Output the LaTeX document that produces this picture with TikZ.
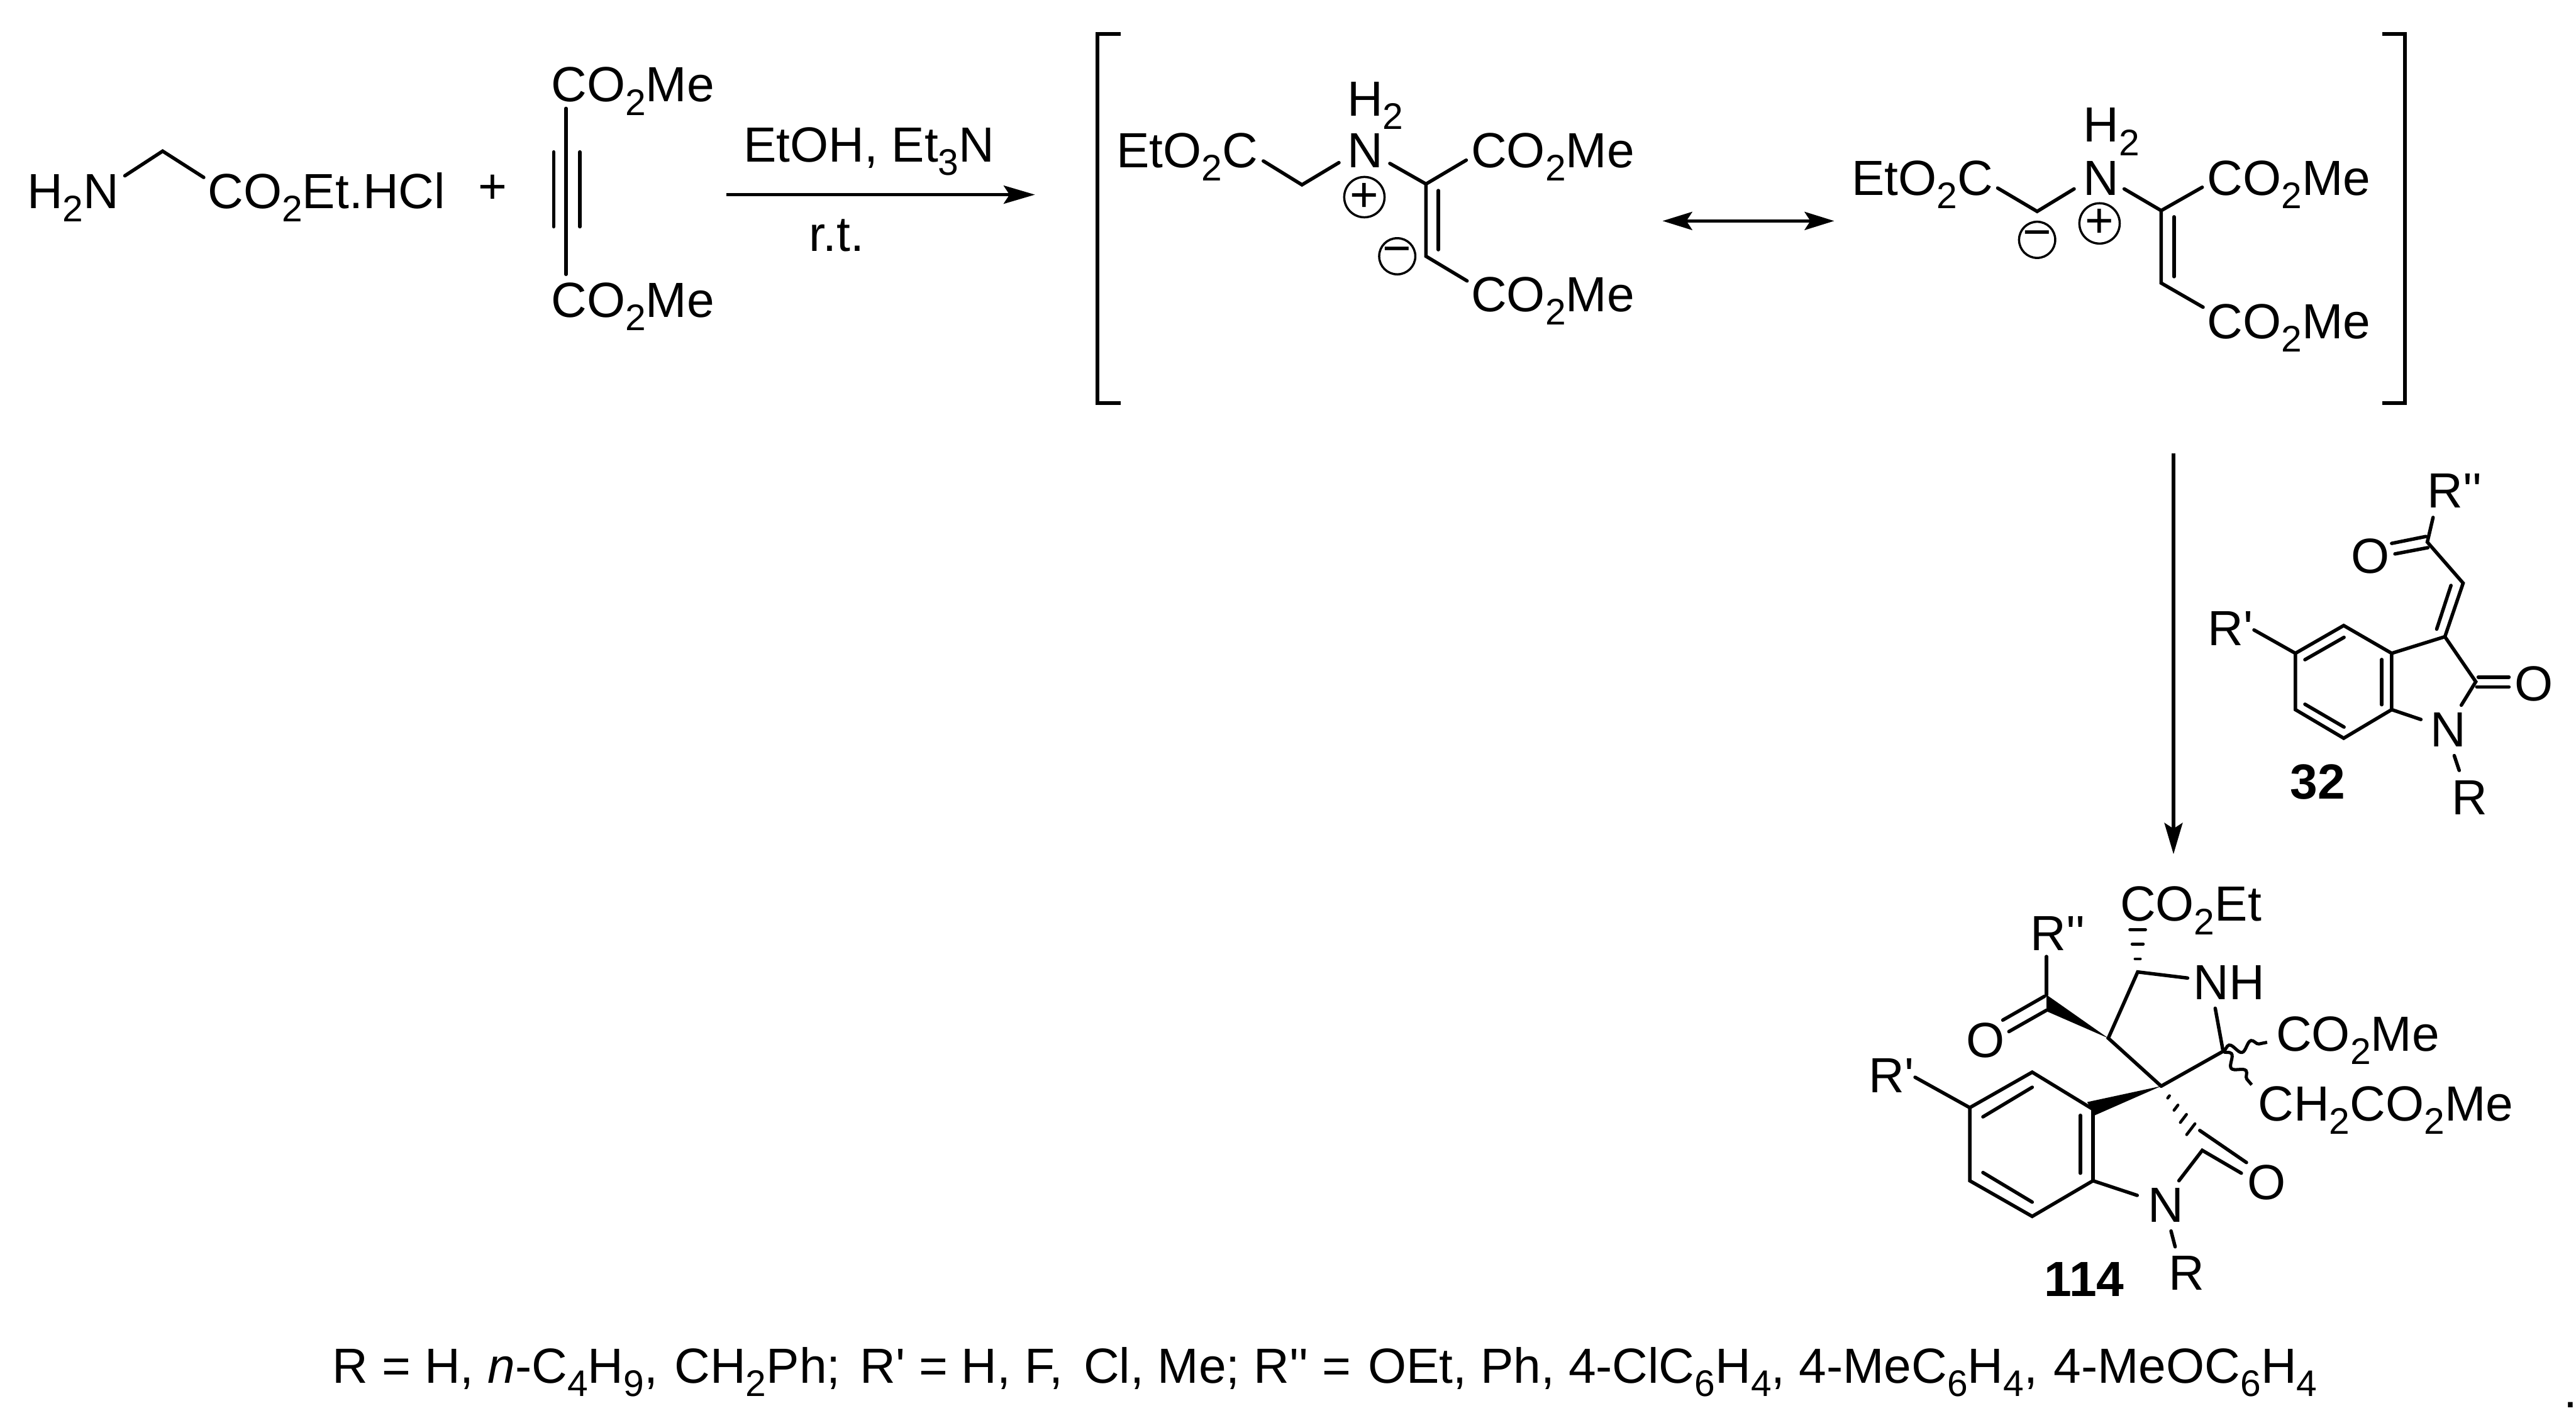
\documentclass[tikz,border=0pt]{standalone}
\usepackage{fontspec}
\setmainfont{Liberation Sans}[Ligatures=TeXOff]
\usetikzlibrary{arrows.meta,calc,decorations.pathmorphing}
\newcommand{\dn}[1]{\raisebox{-.27em}{\fontsize{6.4}{7}\selectfont #1}}
\tikzset{
 lab/.style={anchor=base west,inner sep=0pt,xshift=-.012cm,font=\fontsize{8.55}{10}\selectfont},
 num/.style={lab,font=\fontsize{8.55}{10}\selectfont\bfseries},
 bond/.style={line width=.6pt,line cap=round},
 hook/.style={line width=.65pt},
 hash/.style={line width=.5pt,line cap=round},
 go/.style={line width=.6pt,-{Stealth[length=.19cm,width=.11cm,inset=.035cm]}},
 both/.style={line width=.6pt,{Stealth[length=.18cm,width=.11cm,inset=.035cm]}-{Stealth[length=.18cm,width=.11cm,inset=.035cm]}},
 chg/.style={circle,draw,line width=.38pt,inner sep=0pt,minimum size=.22cm,font=\fontsize{8.5}{9}\selectfont},
 wig/.style={line width=.55pt,decorate,decoration={snake,amplitude=.85pt,segment length=3.9pt}}
}
\begin{document}
\begin{tikzpicture}[x=.01cm,y=-.01cm]
\useasboundingbox (0,0) rectangle (1568,863);
\node[lab] (aminoN) at (17,127) {H\dn{2}N};
\node[lab] (aminoCO) at (127,127) {CO\dn{2}Et.HCl};
\node[lab] (plus) at (291.5,124) {+};
\node[lab] (alkTop) at (336,62) {CO\dn{2}Me};
\node[lab] (alkBot) at (336,193) {CO\dn{2}Me};
\coordinate (g1) at (76,107); \coordinate (g2) at (99,92); \coordinate (g3) at (124,108);
\draw[bond] (g1)--(g2)--(g3);
\coordinate (t1) at (344.5,66); \coordinate (t2) at (344.5,167);
\coordinate (t3) at (337,92.5); \coordinate (t4) at (337,138);
\coordinate (t5) at (353,92.5); \coordinate (t6) at (353,138);
\draw[bond] (t1)--(t2);
\draw[bond] (t3)--(t4);
\draw[bond] (t5)--(t6);
\node[lab] (cond) at (453,98.5) {EtOH, Et\dn{3}N};
\node[lab] (rt) at (493,153) {r.t.};
\coordinate (r1) at (442,118.5); \coordinate (r2) at (630,118.5);
\draw[go] (r1)--(r2);
\coordinate (bl1) at (682,20.5); \coordinate (bl2) at (668,20.5); \coordinate (bl3) at (668,245.5); \coordinate (bl4) at (682,245.5);
\draw[hook] (bl1)--(bl2)--(bl3)--(bl4);
\node[lab] (aEt) at (680,102) {EtO\dn{2}C};
\node[lab] (aN) at (820.5,102) {N};
\node[lab] (aH) at (820.5,70.5) {H\dn{2}};
\node[lab] (aCa) at (896,102) {CO\dn{2}Me};
\node[lab] (aCb) at (896,189.5) {CO\dn{2}Me};
\node[chg] (aP) at (830.5,120) {+};
\node[chg] (aM) at (850.5,156) {−};
\coordinate (a1) at (769,98); \coordinate (a2) at (792.5,112.5); \coordinate (a3) at (815,99);
\coordinate (a4) at (846,99.5); \coordinate (a5) at (868,112); \coordinate (a6) at (892.5,97.5);
\coordinate (a7) at (868,156); \coordinate (a8) at (893,171);
\coordinate (a9) at (875.5,116); \coordinate (a10) at (875.5,152);
\draw[bond] (a1)--(a2)--(a3);
\draw[bond] (a4)--(a5)--(a6);
\draw[bond] (a5)--(a7)--(a8);
\draw[bond] (a9)--(a10);
\coordinate (d1) at (1012,134.5); \coordinate (d2) at (1116.5,134.5);
\draw[both] (d1)--(d2);
\node[lab] (bEt) at (1127.5,118.8) {EtO\dn{2}C};
\node[lab] (bN) at (1268.5,118.8) {N};
\node[lab] (bH) at (1268.5,86.5) {H\dn{2}};
\node[lab] (bCa) at (1344,118.8) {CO\dn{2}Me};
\node[lab] (bCb) at (1344,206.2) {CO\dn{2}Me};
\node[chg] (bP) at (1278,136) {+};
\node[chg] (bM) at (1240,146) {−};
\coordinate (b1) at (1216,114.5); \coordinate (b2) at (1240,128.7); \coordinate (b3) at (1262.5,115);
\coordinate (b4) at (1293,115); \coordinate (b5) at (1315.5,128.2); \coordinate (b6) at (1340.5,114);
\coordinate (b7) at (1315.5,172.3); \coordinate (b8) at (1341,187);
\coordinate (b9) at (1323.3,132); \coordinate (b10) at (1323.3,168.4);
\draw[bond] (b1)--(b2)--(b3);
\draw[bond] (b4)--(b5)--(b6);
\draw[bond] (b5)--(b7)--(b8);
\draw[bond] (b9)--(b10);
\coordinate (br1) at (1450,20.5); \coordinate (br2) at (1464,20.5); \coordinate (br3) at (1464,245.5); \coordinate (br4) at (1450,245.5);
\draw[hook] (br1)--(br2)--(br3)--(br4);
\coordinate (v1) at (1323,276); \coordinate (v2) at (1323,520);
\draw[go] (v1)--(v2);
\node[lab] (cRb) at (1478,309.3) {R''};
\node[lab] (cRa) at (1344.5,393) {R'};
\node[lab] (cOa) at (1431.5,349) {O};
\node[lab] (cOb) at (1531,426.8) {O};
\node[lab] (cN) at (1480,454.6) {N};
\node[lab] (cR) at (1493,496) {R};
\node[num] (num32) at (1394.5,486.2) {32};
\coordinate (c1) at (1455.8,397.7); \coordinate (c2) at (1426.6,380.8); \coordinate (c3) at (1397.2,397.7);
\coordinate (c4) at (1397.2,432); \coordinate (c5) at (1426.6,449.4); \coordinate (c6) at (1455.8,432);
\draw[bond] (c1)--(c2)--(c3)--(c4)--(c5)--(c6)--cycle;
\coordinate (c7) at (1426.8,388); \coordinate (c8) at (1403,401.6);
\coordinate (c9) at (1449.8,401.5); \coordinate (c10) at (1449.8,429);
\coordinate (c11) at (1403,428.7); \coordinate (c12) at (1426.8,442.6);
\draw[bond] (c7)--(c8);
\draw[bond] (c9)--(c10);
\draw[bond] (c11)--(c12);
\coordinate (c13) at (1372,383.5);
\draw[bond] (c13)--(c3);
\coordinate (c14) at (1488.2,387.6); \coordinate (c15) at (1507,415); \coordinate (c16) at (1498.2,429.3);
\coordinate (c17) at (1473.6,438);
\draw[bond] (c1)--(c14)--(c15)--(c16);
\draw[bond] (c6)--(c17);
\coordinate (c18) at (1493.9,460); \coordinate (c19) at (1496.9,469);
\draw[bond] (c18)--(c19);
\coordinate (c20) at (1508.5,412.2); \coordinate (c21) at (1527.2,412.2);
\coordinate (c22) at (1507.6,418.2); \coordinate (c23) at (1527.2,418.2);
\draw[bond] (c20)--(c21);
\draw[bond] (c22)--(c23);
\coordinate (c24) at (1499.3,355); \coordinate (c25) at (1491.9,356.4); \coordinate (c26) at (1483.2,383);
\coordinate (c27) at (1477.5,330); \coordinate (c28) at (1481,315);
\draw[bond] (c14)--(c24)--(c27)--(c28);
\draw[bond] (c25)--(c26);
\coordinate (c29) at (1455.8,330.8); \coordinate (c30) at (1476.6,326.6);
\coordinate (c31) at (1457.8,337.2); \coordinate (c32) at (1477.8,333.4);
\draw[bond] (c29)--(c30);
\draw[bond] (c31)--(c32);
\node[lab] (eEt) at (1291,560.8) {CO\dn{2}Et};
\node[lab] (eRb) at (1236.5,578.5) {R''};
\node[lab] (eNH) at (1335.5,608.6) {NH};
\node[lab] (eOa) at (1197.5,643.8) {O};
\node[lab] (eCa) at (1386,639.7) {CO\dn{2}Me};
\node[lab] (eCb) at (1375,682.3) {CH\dn{2}CO\dn{2}Me};
\node[lab] (eRa) at (1138,665.1) {R'};
\node[lab] (eOb) at (1368.5,730.3) {O};
\node[lab] (eN) at (1308,743.8) {N};
\node[lab] (eR) at (1320.5,785.5) {R};
\node[num] (num114) at (1245,789.2) {114};
\coordinate (e1) at (1274,675.3); \coordinate (e2) at (1237,652.7); \coordinate (e3) at (1199,674.3);
\coordinate (e4) at (1199,718.8); \coordinate (e5) at (1237,740.5); \coordinate (e6) at (1274,718.8);
\draw[bond] (e1)--(e2)--(e3)--(e4)--(e5)--(e6)--cycle;
\coordinate (e7) at (1207,679.9); \coordinate (e8) at (1237,661.9);
\coordinate (e9) at (1266.3,679); \coordinate (e10) at (1266.3,714.2);
\coordinate (e11) at (1207,713.8); \coordinate (e12) at (1237,731.8);
\draw[bond] (e7)--(e8);
\draw[bond] (e9)--(e10);
\draw[bond] (e11)--(e12);
\coordinate (e13) at (1165.7,655.8);
\draw[bond] (e13)--(e3);
\coordinate (e14) at (1315.5,661.2); \coordinate (e15) at (1283.3,632); \coordinate (e16) at (1301.2,591.7);
\coordinate (e17) at (1331.6,595.4); \coordinate (e18) at (1348.4,613.8); \coordinate (e19) at (1353.2,640);
\draw[bond] (e14)--(e15)--(e16)--(e17);
\draw[bond] (e18)--(e19)--(e14);
\coordinate (e20) at (1245.7,605.6); \coordinate (e21) at (1245.7,582.3); \coordinate (e22) at (1245.7,615.6);
\draw[bond] (e20)--(e21);
\fill (e15)--(e20)--(e22)--cycle;
\coordinate (e23) at (1244.5,606.5); \coordinate (e24) at (1219.1,621);
\coordinate (e25) at (1245.7,615); \coordinate (e26) at (1222.8,628);
\draw[bond] (e23)--(e24);
\draw[bond] (e25)--(e26);
\coordinate (e27) at (1270.5,670.9); \coordinate (e28) at (1274.8,679.1);
\fill (e14)--(e27)--(e28)--cycle;
\coordinate (e39) at (1301.2,566);
\coordinate (e40) at (1336,691);
\foreach \dd/\ww in {.31/1.6,.66/3.4,1/4.8}
 \draw[hash] ($(e16)!\dd!(e39)+(-\ww,0)$)--($(e16)!\dd!(e39)+(\ww,0)$);
\foreach \dd/\ww in {.22/1.0,.44/2.2,.66/3.4,.88/4.6}
 \draw[hash] ($(e14)!\dd!(e40)+(-.55*\ww,.72*\ww)$)--($(e14)!\dd!(e40)+(.55*\ww,-.72*\ww)$);
\coordinate (e29) at (1380,634.5); \coordinate (e30) at (1370.6,660.4);
\draw[wig] (e19)--(e29);
\draw[wig] (e19)--(e30);
\coordinate (e31) at (1339,688.2); \coordinate (e32) at (1367.4,707.7);
\coordinate (e33) at (1340.5,700.3); \coordinate (e34) at (1364.3,714.2); \coordinate (e35) at (1326.3,718.8);
\draw[bond] (e31)--(e32);
\draw[bond] (e34)--(e33)--(e35);
\coordinate (e36) at (1300.9,727.7);
\draw[bond] (e6)--(e36);
\coordinate (e37) at (1321.5,749.4); \coordinate (e38) at (1324,759);
\draw[bond] (e37)--(e38);
\node[lab] (subst) at (203,842) {R = H, \textit{n}-C\dn{4}H\dn{9}, \kern.5pt CH\dn{2}Ph; \kern1pt R' = H, F, \kern1.2pt Cl, Me; R'' = \kern.6pt OEt, Ph, 4-ClC\dn{6}H\dn{4}, 4-MeC\dn{6}H\dn{4}, \kern.4pt 4-MeOC\dn{6}H\dn{4}};
\node[lab] (dot) at (1561,857) {.};
\end{tikzpicture}
\end{document}
